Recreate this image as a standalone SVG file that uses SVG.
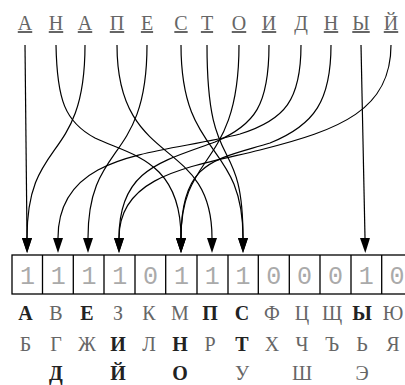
<svg xmlns="http://www.w3.org/2000/svg" width="405" height="385" viewBox="0 0 405 385">
<style>
.top{font-family:"Liberation Serif","Times New Roman",serif;font-size:20px;fill:#666;text-anchor:middle;text-decoration:underline}
.edge{fill:none;stroke:#000;stroke-width:1.2}
.dig{font-family:"Liberation Mono","Courier New",monospace;font-size:25px;fill:#aaa;text-anchor:middle}
.al{font-family:"Liberation Serif","Times New Roman",serif;font-size:20px;fill:#666;text-anchor:middle}
.b{font-weight:bold;fill:#222}
.cell{fill:none;stroke:#000;stroke-width:1.3}
</style>
<defs>
<marker id="ah" viewBox="0 0 15 10" refX="0" refY="5" markerWidth="15" markerHeight="10" markerUnits="userSpaceOnUse" orient="auto">
<path d="M0,0 L15,5 L0,10 z" fill="#000"/>
</marker>
</defs>
<rect width="405" height="385" fill="#fff"/>
<g id="word">
<text class="top" x="25" y="30">А</text>
<text class="top" x="56" y="30">Н</text>
<text class="top" x="85" y="30">А</text>
<text class="top" x="117" y="30">П</text>
<text class="top" x="147" y="30">Е</text>
<text class="top" x="181" y="30">С</text>
<text class="top" x="207" y="30">Т</text>
<text class="top" x="239" y="30">О</text>
<text class="top" x="269" y="30">И</text>
<text class="top" x="301" y="30">Д</text>
<text class="top" x="331" y="30">Н</text>
<text class="top" x="361" y="30">Ы</text>
<text class="top" x="391" y="30">Й</text>
</g>
<g id="connectors">
<path class="edge" marker-end="url(#ah)" d="M25,45 L27,238"/>
<path class="edge" marker-end="url(#ah)" d="M56,45 C57,100 65,122 95,138 C130,155 181,160 181,238"/>
<path class="edge" marker-end="url(#ah)" d="M85,45 C85,165 27,135 27,238"/>
<path class="edge" marker-end="url(#ah)" d="M117,45 C117,170 212,135 212,238"/>
<path class="edge" marker-end="url(#ah)" d="M147,45 C147,165 88,140 88,238"/>
<path class="edge" marker-end="url(#ah)" d="M181,45 C181,160 243,140 243,238"/>
<path class="edge" marker-end="url(#ah)" d="M207,45 C207,180 243,130 243,238"/>
<path class="edge" marker-end="url(#ah)" d="M239,45 C239,170 181,150 181,238"/>
<path class="edge" marker-end="url(#ah)" d="M269,45 C269,105 255,125 215,142 C160,162 119,170 119,238"/>
<path class="edge" marker-end="url(#ah)" d="M301,45 C301,100 285,120 240,134 C160,155 58,150 58,238"/>
<path class="edge" marker-end="url(#ah)" d="M331,45 C331,100 315,125 270,143 C215,160 181,160 181,238"/>
<path class="edge" marker-end="url(#ah)" d="M361,45 L365,238"/>
<path class="edge" marker-end="url(#ah)" d="M391,45 C391,110 340,130 260,150 C190,167 119,175 119,238"/>
</g>
<g id="bits">
<rect class="cell" x="12" y="255" width="410" height="39"/>
<path class="cell" d="M42.5,255V294M73.3,255V294M104,255V294M135,255V294M165.7,255V294M197,255V294M228,255V294M258.3,255V294M289.3,255V294M320,255V294M351,255V294M381.7,255V294"/>
<text class="dig" x="27.4" y="284">1</text>
<text class="dig" x="58.2" y="284">1</text>
<text class="dig" x="89" y="284">1</text>
<text class="dig" x="119.8" y="284">1</text>
<text class="dig" x="150.6" y="284">0</text>
<text class="dig" x="181.4" y="284">1</text>
<text class="dig" x="212.2" y="284">1</text>
<text class="dig" x="243" y="284">1</text>
<text class="dig" x="273.8" y="284">0</text>
<text class="dig" x="304.6" y="284">0</text>
<text class="dig" x="335.4" y="284">0</text>
<text class="dig" x="366.2" y="284">1</text>
<text class="dig" x="397" y="284">0</text>
</g>
<g id="alphabet">
<text class="al b" x="25.5" y="320">А</text>
<text class="al" x="56" y="320">В</text>
<text class="al b" x="87" y="320">Е</text>
<text class="al" x="118" y="320">З</text>
<text class="al" x="149" y="320">К</text>
<text class="al" x="180" y="320">М</text>
<text class="al b" x="210" y="320">П</text>
<text class="al b" x="242" y="320">С</text>
<text class="al" x="272" y="320">Ф</text>
<text class="al" x="302" y="320">Ц</text>
<text class="al" x="332" y="320">Щ</text>
<text class="al b" x="362" y="320">Ы</text>
<text class="al" x="393" y="320">Ю</text>
<text class="al" x="25.5" y="351">Б</text>
<text class="al" x="56" y="351">Г</text>
<text class="al" x="87" y="351">Ж</text>
<text class="al b" x="118" y="351">И</text>
<text class="al" x="149" y="351">Л</text>
<text class="al b" x="180" y="351">Н</text>
<text class="al" x="210" y="351">Р</text>
<text class="al b" x="242" y="351">Т</text>
<text class="al" x="272" y="351">Х</text>
<text class="al" x="302" y="351">Ч</text>
<text class="al" x="332" y="351">Ъ</text>
<text class="al" x="362" y="351">Ь</text>
<text class="al" x="393" y="351">Я</text>
<text class="al b" x="56" y="380">Д</text>
<text class="al b" x="118" y="380">Й</text>
<text class="al b" x="180" y="380">О</text>
<text class="al" x="242" y="380">У</text>
<text class="al" x="302" y="380">Ш</text>
<text class="al" x="362" y="380">Э</text>
</g>
</svg>
